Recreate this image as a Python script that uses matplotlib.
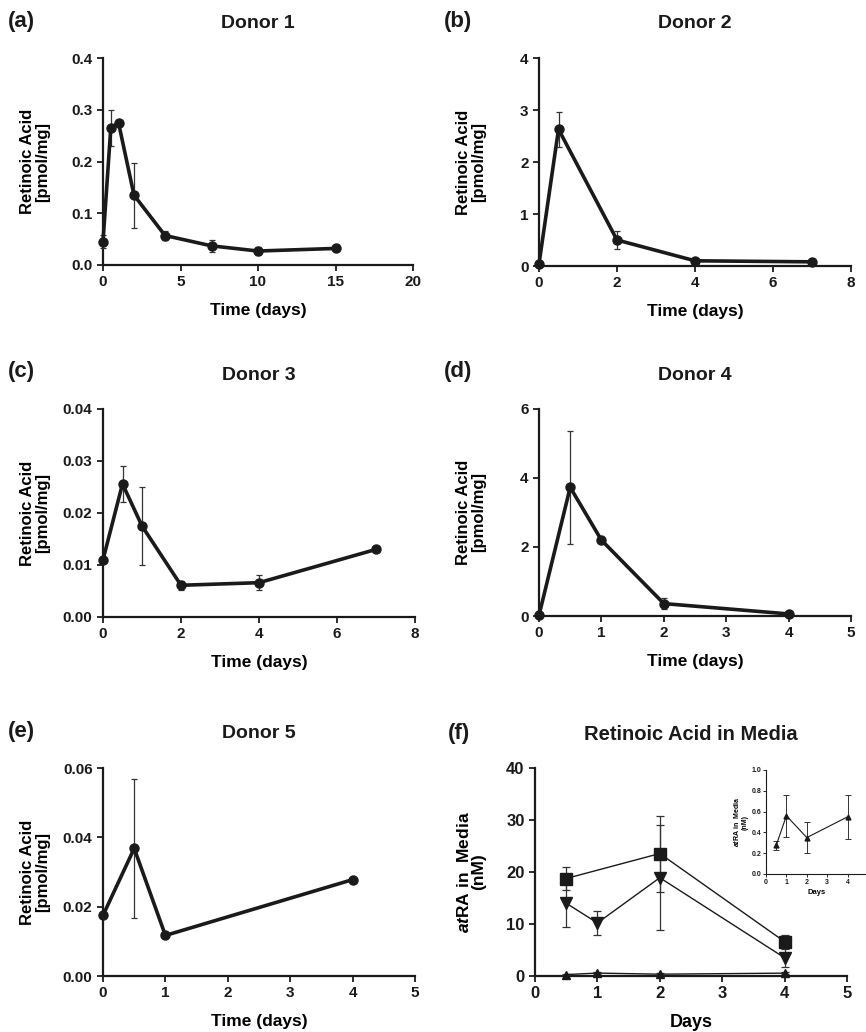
import matplotlib
matplotlib.use("Agg")
import matplotlib.pyplot as plt
from matplotlib.ticker import FormatStrFormatter

plt.rcParams['font.family'] = ['Liberation Sans', 'DejaVu Sans']
plt.rcParams['font.weight'] = 'bold'
plt.rcParams['mathtext.fontset'] = 'custom'
plt.rcParams['mathtext.rm'] = 'Liberation Sans:bold'
plt.rcParams['mathtext.it'] = 'Liberation Sans:italic:bold'
plt.rcParams['mathtext.bfit'] = 'Liberation Sans:italic:bold'

# donor tissue data (time in days, retinoic acid pmol/mg, error)
d1_days = [0, 0.5, 1, 2, 4, 7, 10, 15]
d1_ra = [0.045, 0.264, 0.275, 0.135, 0.057, 0.037, 0.027, 0.032]
d1_err = [0.013, 0.035, 0.0, 0.063, 0.009, 0.012, 0.008, 0.0]

d2_days = [0, 0.5, 2, 4, 7]
d2_ra = [0.04, 2.63, 0.50, 0.10, 0.08]
d2_err = [0.0, 0.34, 0.18, 0.0, 0.0]

d3_days = [0, 0.5, 1, 2, 4, 7]
d3_ra = [0.011, 0.0256, 0.0175, 0.0061, 0.0066, 0.013]
d3_err = [0.0, 0.0035, 0.0075, 0.0009, 0.0015, 0.0]

d4_days = [0, 0.5, 1, 2, 4]
d4_ra = [0.02, 3.73, 2.2, 0.36, 0.06]
d4_err = [0.0, 1.63, 0.0, 0.15, 0.0]

d5_days = [0, 0.5, 1, 4]
d5_ra = [0.0175, 0.0368, 0.0117, 0.0278]
d5_err = [0.0, 0.020, 0.0, 0.0]

# media data (nM)
sq_days = [0.5, 2, 4]
sq_ra = [18.75, 23.55, 6.6]
sq_err = [2.3, 7.3, 1.2]

dn_days = [0.5, 1, 2, 4]
dn_ra = [14.0, 10.2, 18.9, 3.5]
dn_err = [4.5, 2.3, 10.1, 1.7]

up_days = [0.5, 1, 2, 4]
up_ra = [0.275, 0.56, 0.35, 0.55]
up_err = [0.045, 0.2, 0.15, 0.21]

W, H = 866, 1032
fig = plt.figure(figsize=(W / 100, H / 100), dpi=100)
ink = '#1a1a1a'


def px_axes(left, right, top, bottom):
    return fig.add_axes([left / W, 1 - bottom / H, (right - left) / W, (bottom - top) / H])


def style(ax, xlim, xticks, ylim, yticks, yfmt, lw=1.6, tsize=11):
    ax.set_xlim(*xlim)
    ax.set_ylim(*ylim)
    ax.set_xticks(xticks)
    ax.set_yticks(yticks)
    if yfmt:
        ax.yaxis.set_major_formatter(FormatStrFormatter(yfmt))
    for s in ['top', 'right']:
        ax.spines[s].set_visible(False)
    for s in ['left', 'bottom']:
        ax.spines[s].set_linewidth(lw)
        ax.spines[s].set_color(ink)
    ax.tick_params(direction='out', length=4, width=lw * 0.8, labelsize=tsize,
                   color=ink, labelcolor=ink)


def donor_panel(box, days, ra, err, title, letter, xlim, xticks, ylim, yticks, yfmt):
    ax = px_axes(*box)
    ax.errorbar(days, ra, yerr=err, fmt='-o', color=ink, lw=2.6, ms=6.5,
                ecolor='#333333', elinewidth=0.9, capsize=2.5, capthick=0.9,
                clip_on=False, zorder=3)
    style(ax, xlim, xticks, ylim, yticks, yfmt)
    ax.set_xlabel('Time (days)', fontsize=12.5, fontweight='bold')
    ax.xaxis.set_label_coords(0.5, -0.185)
    ax.xaxis.label.set_va('top')
    ax.set_ylabel('Retinoic Acid\n[pmol/mg]', fontsize=12, fontweight='bold',
                  linespacing=1.0)
    ax.yaxis.set_label_coords(-0.219, 0.5)
    ax.yaxis.label.set_va('center')
    cx = (box[0] + box[1]) / 2
    fig.text(cx / W, 1 - (box[2] - 34) / H, title, ha='center', va='center',
             fontsize=14, fontweight='bold', color=ink)
    fig.text((box[0] - 95) / W, 1 - (box[2] - 37) / H, letter, ha='left', va='center',
             fontsize=16, fontweight='bold', color=ink)
    return ax


donor_panel((103, 413, 58, 265), d1_days, d1_ra, d1_err, 'Donor 1', '(a)',
            (0, 20), [0, 5, 10, 15, 20], (0, 0.4), [0, 0.1, 0.2, 0.3, 0.4], '%.1f')
donor_panel((539, 851, 58, 266), d2_days, d2_ra, d2_err, 'Donor 2', '(b)',
            (0, 8), [0, 2, 4, 6, 8], (0, 4), [0, 1, 2, 3, 4], '%d')
donor_panel((103, 415, 409, 617), d3_days, d3_ra, d3_err, 'Donor 3', '(c)',
            (0, 8), [0, 2, 4, 6, 8], (0, 0.04), [0, 0.01, 0.02, 0.03, 0.04], '%.2f')
donor_panel((539, 851, 409, 616), d4_days, d4_ra, d4_err, 'Donor 4', '(d)',
            (0, 5), [0, 1, 2, 3, 4, 5], (0, 6), [0, 2, 4, 6], '%d')
donor_panel((103, 415, 768, 976), d5_days, d5_ra, d5_err, 'Donor 5', '(e)',
            (0, 5), [0, 1, 2, 3, 4, 5], (0, 0.06), [0, 0.02, 0.04, 0.06], '%.2f')

# panel f: media
boxf = (535, 847, 768, 976)
axf = px_axes(*boxf)
kw = dict(color=ink, lw=1.0, ecolor='#333333', elinewidth=0.9, capsize=3,
          capthick=0.9, clip_on=False, zorder=3)
axf.errorbar(up_days, up_ra, yerr=up_err, fmt='-^', ms=6, **kw)
axf.errorbar(dn_days, dn_ra, yerr=dn_err, fmt='-v', ms=8, **kw)
axf.errorbar(sq_days, sq_ra, yerr=sq_err, fmt='-s', ms=8, **kw)
style(axf, (0, 5), [0, 1, 2, 3, 4, 5], (0, 40), [0, 10, 20, 30, 40], '%d', tsize=12)
axf.set_xlabel('Days', fontsize=13, fontweight='bold')
axf.xaxis.set_label_coords(0.5, -0.185)
axf.xaxis.label.set_va('top')
axf.set_ylabel('$\\mathbfit{at}$RA in  Media\n(nM)', fontsize=12.5, fontweight='bold',
               linespacing=1.0)
axf.yaxis.set_label_coords(-0.205, 0.5)
axf.yaxis.label.set_va('center')
fig.text(691 / W, 1 - 734 / H, 'Retinoic Acid in Media', ha='center', va='center',
         fontsize=14.5, fontweight='bold', color=ink)
fig.text(448 / W, 1 - 733 / H, '(f)', ha='left', va='center',
         fontsize=16, fontweight='bold', color=ink)

# inset
axi = px_axes(766, 868, 770, 874)
axi.errorbar(up_days, up_ra, yerr=up_err, fmt='-^', color=ink, lw=0.8, ms=3.5,
             ecolor='#333333', elinewidth=0.7, capsize=2, capthick=0.7,
             clip_on=False, zorder=3)
style(axi, (0, 5), [0, 1, 2, 3, 4], (0, 1.0), [0, 0.2, 0.4, 0.6, 0.8, 1.0], '%.1f',
      lw=0.8, tsize=5)
axi.tick_params(length=2, pad=1.5)
axi.set_xlabel('Days', fontsize=5.5, fontweight='bold', labelpad=2)
axi.set_ylabel('$\\mathbfit{at}$RA in  Media\n(nM)', fontsize=5, fontweight='bold',
               linespacing=1.0, labelpad=2)

fig.savefig('out.png', dpi=100)
